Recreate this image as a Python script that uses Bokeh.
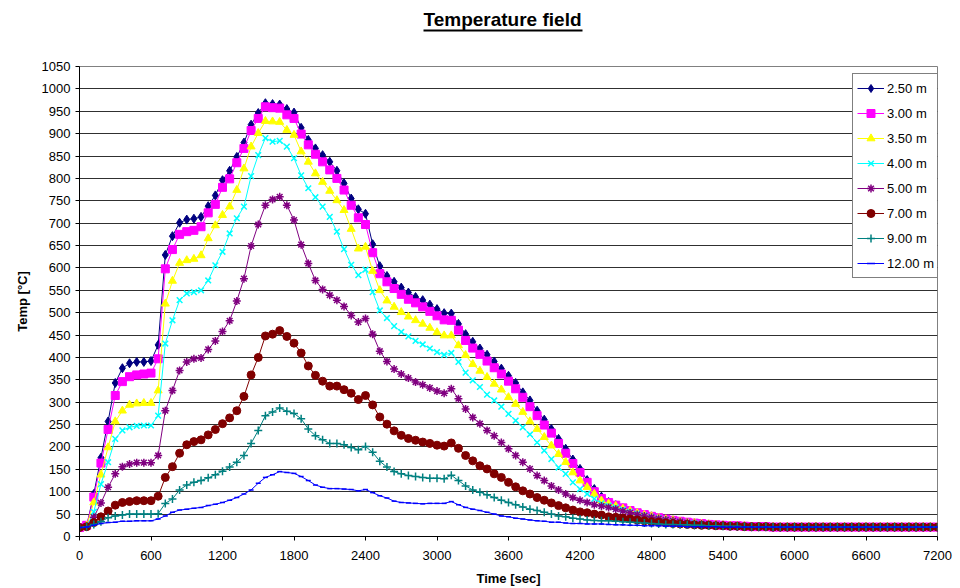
from bokeh.plotting import figure
from bokeh.models import Legend, LegendItem, FixedTicker, Range1d, LinearAxis, ColorBar, LinearColorMapper
from bokeh.embed import file_html
from bokeh.resources import INLINE

# ---- data ----
time_sec = list(range(0, 7201, 60))

t_2_50 = [20, 23, 95, 176, 257, 343, 376, 387, 390, 390,
          392, 428, 629, 671, 701, 708, 710, 714, 738, 762,
          796, 817, 848, 880, 920, 946, 968, 966, 965, 955,
          947, 913, 886, 867, 852, 837, 817, 789, 755, 731,
          721, 653, 604, 582, 569, 556, 545, 535, 528, 518,
          508, 499, 498, 475, 452, 435, 420, 406, 391, 375,
          359, 343, 322, 304, 281, 261, 240, 218, 196, 172,
          151, 126, 106, 89, 77, 70,
          63, 57, 52, 48, 45, 41, 38, 36, 33, 31,
          30, 28, 27, 26, 25, 24, 23, 23, 22, 22,
          22, 21, 21, 21, 21, 21, 21, 21, 21, 21,
          21, 21, 21, 21, 21, 21, 21, 21, 21, 21,
          21, 21, 21, 21, 21]

t_3_00 = [20, 25, 88, 164, 239, 315, 346, 357, 361, 363,
          365, 397, 598, 641, 675, 681, 684, 692, 723, 742,
          780, 799, 835, 867, 907, 934, 960, 958, 957, 942,
          934, 899, 875, 854, 837, 819, 800, 774, 740, 712,
          697, 634, 587, 569, 554, 541, 530, 522, 513, 503,
          493, 484, 483, 461, 438, 421, 407, 392, 377, 363,
          347, 330, 311, 290, 270, 249, 231, 208, 186, 163,
          143, 121, 100, 85, 76, 70,
          64, 58, 53, 49, 45, 42, 39, 36, 34, 32,
          30, 29, 27, 26, 25, 24, 24, 23, 22, 22,
          22, 21, 21, 21, 21, 21, 21, 21, 21, 21,
          21, 21, 21, 21, 21, 21, 21, 21, 21, 21,
          21, 21, 21, 21, 21]

t_3_50 = [20, 24, 76, 138, 199, 257, 281, 294, 297, 298,
          298, 326, 520, 571, 611, 617, 620, 628, 666, 695,
          718, 737, 774, 822, 871, 901, 928, 927, 926, 908,
          897, 860, 837, 811, 792, 772, 751, 729, 687, 643,
          647, 593, 550, 527, 513, 501, 491, 483, 475, 466,
          456, 449, 449, 427, 405, 385, 370, 356, 341, 328,
          311, 296, 278, 257, 240, 222, 203, 184, 166, 143,
          125, 110, 95, 80, 73, 68,
          62, 57, 52, 48, 45, 41, 38, 36, 33, 31,
          30, 28, 27, 26, 25, 24, 23, 23, 22, 22,
          22, 21, 21, 21, 21, 21, 21, 21, 21, 21,
          21, 21, 21, 21, 21, 21, 21, 21, 21, 21,
          21, 21, 21, 21, 21]

t_4_00 = [20, 22, 55, 117, 166, 218, 237, 244, 247, 248,
          248, 270, 431, 483, 528, 543, 546, 550, 572, 606,
          636, 677, 711, 737, 805, 852, 890, 882, 884, 871,
          845, 807, 778, 758, 737, 714, 681, 642, 607, 584,
          596, 546, 505, 488, 470, 457, 447, 437, 429, 420,
          412, 406, 410, 390, 366, 349, 334, 317, 304, 290,
          274, 259, 244, 228, 210, 192, 173, 154, 140, 121,
          106, 95, 84, 74, 69, 65,
          60, 55, 51, 47, 44, 41, 38, 35, 33, 31,
          30, 28, 27, 26, 25, 24, 23, 23, 22, 22,
          22, 21, 21, 21, 21, 21, 21, 21, 21, 21,
          21, 21, 21, 21, 21, 21, 21, 21, 21, 21,
          21, 21, 21, 21, 21]

t_5_00 = [20, 22, 43, 75, 110, 140, 156, 162, 165, 165,
          165, 181, 281, 326, 371, 390, 397, 399, 418, 437,
          458, 482, 526, 576, 649, 697, 740, 753, 759, 740,
          707, 652, 610, 572, 552, 539, 528, 514, 494, 479,
          487, 452, 414, 391, 374, 363, 354, 345, 339, 332,
          325, 320, 330, 308, 285, 266, 252, 237, 225, 210,
          196, 181, 166, 151, 136, 125, 113, 104, 95, 87,
          81, 76, 71, 68, 65, 61,
          57, 53, 49, 46, 43, 40, 37, 35, 33, 31,
          29, 28, 27, 26, 25, 24, 23, 23, 22, 22,
          22, 21, 21, 21, 21, 21, 21, 21, 21, 21,
          21, 21, 21, 21, 21, 21, 21, 21, 21, 21,
          21, 21, 21, 21, 21]

t_7_00 = [20, 22, 31, 44, 57, 70, 76, 78, 80, 80,
          80, 90, 132, 156, 186, 205, 212, 216, 227, 239,
          252, 265, 281, 313, 361, 400, 448, 452, 460, 447,
          432, 410, 381, 360, 347, 336, 336, 328, 320, 306,
          315, 294, 267, 251, 236, 226, 219, 215, 211, 208,
          204, 202, 209, 197, 181, 169, 158, 151, 140, 132,
          121, 111, 102, 95, 87, 81, 75, 69, 64, 59,
          55, 53, 50, 48, 44, 43,
          41, 39, 37, 35, 33, 32, 30, 29, 28, 27,
          26, 25, 25, 24, 24, 23, 23, 22, 22, 22,
          22, 21, 21, 21, 21, 21, 21, 21, 21, 21,
          21, 21, 21, 21, 21, 21, 21, 21, 21, 21,
          21, 21, 21, 21, 21]

t_9_00 = [20, 22, 27, 33, 42, 46, 48, 50, 50, 50,
          50, 51, 74, 84, 104, 115, 121, 125, 131, 138,
          146, 155, 166, 181, 208, 237, 270, 278, 287, 280,
          275, 263, 240, 225, 216, 208, 208, 205, 199, 194,
          201, 188, 168, 155, 145, 140, 136, 134, 132, 130,
          130, 129, 137, 125, 113, 104, 99, 93, 87, 81,
          76, 71, 66, 61, 58, 54, 50, 46, 44, 41,
          39, 37, 36, 35, 35, 34,
          33, 32, 31, 30, 29, 28, 27, 27, 26, 26,
          25, 25, 24, 24, 23, 23, 23, 22, 22, 22,
          22, 21, 21, 21, 21, 21, 21, 21, 21, 21,
          21, 21, 21, 21, 21, 21, 21, 21, 21, 21,
          21, 21, 21, 21, 21]

t_12_00 = [20, 21, 25, 29, 31, 32, 34, 34, 35, 35,
           35, 39, 46, 54, 59, 61, 63, 65, 69, 72,
           76, 81, 87, 95, 104, 119, 132, 138, 145, 143,
           141, 134, 125, 115, 110, 107, 107, 106, 105, 102,
           105, 98, 91, 86, 79, 76, 75, 74, 73, 74,
           74, 74, 78, 71, 65, 61, 58, 54, 50, 46,
           44, 41, 39, 37, 35, 34, 32, 32, 30, 29,
           29, 28, 28, 28, 27, 26,
           26, 25, 25, 24, 24, 24, 23, 23, 23, 22,
           22, 22, 22, 22, 21, 21, 21, 21, 21, 21,
           21, 21, 21, 21, 21, 21, 21, 21, 21, 21,
           21, 21, 21, 21, 21, 21, 21, 21, 21, 21,
           21, 21, 21, 21, 21]

series_names = ["2.50 m", "3.00 m", "3.50 m", "4.00 m", "5.00 m", "7.00 m", "9.00 m", "12.00 m"]
series_values = [t_2_50, t_3_00, t_3_50, t_4_00, t_5_00, t_7_00, t_9_00, t_12_00]
x_ticks = list(range(0, 7201, 600))
y_ticks = list(range(0, 1051, 50))
chart_title = "Temperature field"

# ---- styles ----
colors = ["#000080", "#FF00FF", "#FFFF00", "#00FFFF", "#800080", "#800000", "#008080", "#0000FF"]
markers = ["diamond", "square", "triangle", "x", "asterisk", "circle", "cross", "dash"]
sizes = [9, 8, 8, 8, 8, 8, 8, 5]

FONT = "Liberation Sans"

p = figure(width=960, height=588, output_backend="svg", toolbar_location=None,
           x_range=Range1d(0, 7200), y_range=Range1d(0, 1050))
p.min_border_left = 79
p.min_border_right = 23
p.min_border_top = 66
p.min_border_bottom = 52
p.background_fill_color = "white"
p.border_fill_color = "white"
p.outline_line_color = "#808080"

xaxis = p.below[0]
yaxis = p.left[0]

# title (outermost in the top panel)
p.title.text = chart_title
p.title.align = "left"
p.title.offset = 344
p.title.text_font = FONT
p.title.text_font_size = "19px"
p.title.text_font_style = "bold"
p.title.text_color = "black"
p.title.vertical_align = "bottom"
p.title.standoff = 2

# invisible spacer between the frame and the title underline
spacer = ColorBar(color_mapper=LinearColorMapper(palette=["#ffffff"], low=0, high=1),
                  ticker=FixedTicker(ticks=[]),
                  height=36, padding=0, margin=0,
                  major_tick_out=0, major_tick_in=0, label_standoff=0,
                  title=None, title_standoff=0,
                  scale_alpha=0, background_fill_alpha=0,
                  bar_line_color=None, border_line_color=None,
                  major_tick_line_color=None, minor_tick_line_color=None)
p.add_layout(spacer, "above")

# title underline: a bounded, tick-less axis
underline = LinearAxis(ticker=FixedTicker(ticks=[]), major_tick_out=0, major_tick_in=0,
                       major_label_standoff=0, axis_label_standoff=0,
                       axis_line_color="black", axis_line_width=2,
                       major_tick_line_color=None, minor_tick_line_color=None,
                       bounds=(2887, 4225))
p.add_layout(underline, "above")

p.xgrid.visible = False
p.ygrid.grid_line_color = "#303030"
p.ygrid.grid_line_width = 1
xaxis.ticker = FixedTicker(ticks=x_ticks)
yaxis.ticker = FixedTicker(ticks=y_ticks)
for ax in (xaxis, yaxis):
    ax.minor_tick_line_color = None
    ax.major_tick_in = 0
    ax.major_tick_out = 4
    ax.axis_line_color = "black"
    ax.major_tick_line_color = "black"
    ax.major_label_text_font = FONT
    ax.major_label_text_font_size = "13px"
    ax.major_label_text_color = "black"
    ax.axis_label_text_font = FONT
    ax.axis_label_text_font_size = "13px"
    ax.axis_label_text_font_style = "bold"
    ax.axis_label_text_color = "black"
xaxis.axis_label = "Time [sec]"
yaxis.axis_label = "Temp [°C]"
xaxis.major_label_standoff = 10
xaxis.axis_label_standoff = 8
yaxis.major_label_standoff = 5
yaxis.axis_label_standoff = 9

items = []
for name, vals, c, m, s in zip(series_names, series_values, colors, markers, sizes):
    lr = p.line(time_sec, vals, line_color=c, line_width=1)
    sr = p.scatter(time_sec, vals, marker=m, size=s, fill_color=c, line_color=c,
                   line_width=1.5 if m in ("x", "asterisk", "cross", "dash") else 1)
    items.append(LegendItem(label=name, renderers=[lr, sr]))

legend = Legend(items=items, location=(773, 258))
legend.label_text_font = FONT
legend.label_text_font_size = "13px"
legend.label_text_color = "black"
legend.glyph_width = 27
legend.glyph_height = 20
legend.label_height = 20
legend.label_standoff = 3
legend.spacing = 5
legend.padding = 4
legend.border_line_color = "black"
legend.border_line_width = 1
legend.background_fill_color = "white"
legend.background_fill_alpha = 1
p.add_layout(legend)

open("out.html", "w").write(file_html(p, INLINE))
